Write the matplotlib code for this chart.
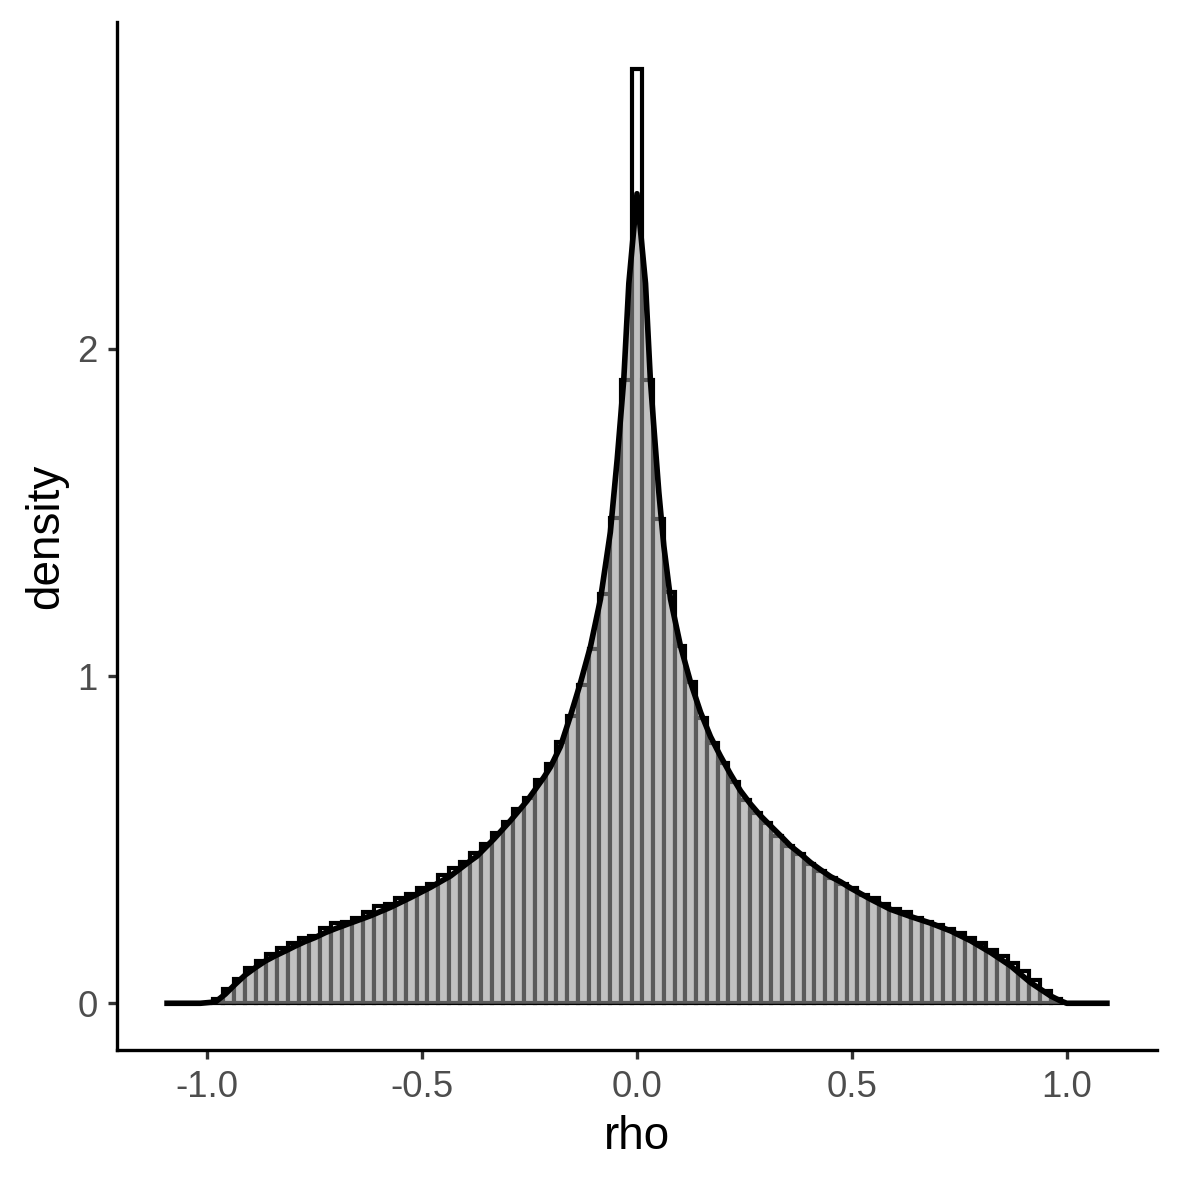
import numpy as np
import matplotlib
matplotlib.use("Agg")
import matplotlib.pyplot as plt

plt.rcParams['font.family'] = ['Liberation Sans', 'DejaVu Sans']

# ---- data ----
bin_width = 0.025
bin_index = list(range(-39, 40))
bar_heights = [
    0.012, 0.043, 0.073, 0.107, 0.128, 0.150, 0.168, 0.183, 0.199, 0.205,
    0.229, 0.245, 0.248, 0.260, 0.279, 0.298, 0.303, 0.321, 0.333, 0.353,
    0.366, 0.391, 0.413, 0.432, 0.459, 0.486, 0.520, 0.554, 0.593, 0.627,
    0.682, 0.731, 0.798, 0.879, 0.972, 1.083, 1.251, 1.483, 1.906,
    2.856,
    1.906, 1.480, 1.257, 1.092, 0.982, 0.872, 0.795, 0.733, 0.677, 0.621,
    0.583, 0.550, 0.512, 0.481, 0.456, 0.427, 0.403, 0.384, 0.364, 0.351,
    0.330, 0.321, 0.303, 0.287, 0.280, 0.262, 0.249, 0.239, 0.228, 0.214,
    0.198, 0.183, 0.163, 0.145, 0.124, 0.099, 0.071, 0.038, 0.012,
]

density_x = [
    -1.1, -1.016, -0.981, -0.958, -0.935, -0.912, -0.888, -0.865, -0.842, -0.818,
    -0.795, -0.772, -0.749, -0.725, -0.702, -0.667, -0.621, -0.574, -0.527, -0.481,
    -0.434, -0.411, -0.388, -0.372, -0.333, -0.2945, -0.2556, -0.217, -0.2014, -0.178,
    -0.155, -0.131, -0.108, -0.085, -0.062, -0.046, -0.0307, -0.019, 0.0,
    0.0198, 0.031, 0.039, 0.0508, 0.0624, 0.078, 0.101, 0.1246, 0.148, 0.171,
    0.194, 0.2177, 0.241, 0.264, 0.2875, 0.311, 0.334, 0.357, 0.381, 0.404,
    0.427, 0.4505, 0.4738, 0.497, 0.5436, 0.590, 0.637, 0.683, 0.730, 0.7765,
    0.823, 0.8696, 0.916, 0.963, 0.986, 1.0, 1.1,
]
density_y = [
    0.0, 0.0, 0.004, 0.028, 0.058, 0.086, 0.109, 0.129, 0.145, 0.160,
    0.175, 0.189, 0.201, 0.216, 0.228, 0.245, 0.267, 0.293, 0.323, 0.354,
    0.389, 0.412, 0.435, 0.450, 0.502, 0.558, 0.619, 0.690, 0.722, 0.785,
    0.878, 0.982, 1.092, 1.235, 1.440, 1.664, 1.908, 2.200, 2.474,
    2.200, 1.908, 1.765, 1.562, 1.398, 1.235, 1.093, 0.981, 0.889, 0.815,
    0.756, 0.700, 0.649, 0.609, 0.573, 0.542, 0.512, 0.481, 0.456, 0.430,
    0.408, 0.387, 0.371, 0.352, 0.318, 0.287, 0.265, 0.245, 0.221, 0.191,
    0.155, 0.114, 0.063, 0.022, 0.007, 0.0, 0.0,
]

x_ticks = [-1.0, -0.5, 0.0, 0.5, 1.0]
x_tick_labels = ["-1.0", "-0.5", "0.0", "0.5", "1.0"]
y_ticks = [0, 1, 2]
y_tick_labels = ["0", "1", "2"]

# ---- figure ----
W = H = 1181
dpi = 300
fig = plt.figure(figsize=(W / dpi, H / dpi), dpi=dpi)
ax = fig.add_axes([117 / W, 1 - 1050 / H, (1157 - 117) / W, (1050 - 22) / H])

centers = np.array(bin_index) * bin_width
ax.bar(centers, bar_heights, width=bin_width, color="white",
       edgecolor="black", linewidth=1.0, zorder=1)

ax.fill_between(density_x, density_y, 0, color="#999999", alpha=0.6,
                linewidth=0, zorder=2)
ax.plot(density_x, density_y, color="black", linewidth=1.35, zorder=3,
        solid_joinstyle="round", solid_capstyle="butt")

# ggplot-like expansion
xmin, xmax = min(density_x), max(density_x)
xr = xmax - xmin
ax.set_xlim(xmin - 0.05 * xr, xmax + 0.05 * xr)
ymax = max(max(bar_heights), max(density_y))
ax.set_ylim(-0.05 * ymax, 1.05 * ymax)

for s in ["top", "right"]:
    ax.spines[s].set_visible(False)
for s in ["left", "bottom"]:
    ax.spines[s].set_linewidth(0.8)
    ax.spines[s].set_color("black")

ax.set_xticks(x_ticks)
ax.set_xticklabels(x_tick_labels)
ax.set_yticks(y_ticks)
ax.set_yticklabels(y_tick_labels)
ax.tick_params(axis="both", length=2.2, width=0.8, color="#333333",
               labelsize=8.8, labelcolor="#4D4D4D", pad=2.5)

ax.set_xlabel("rho", fontsize=11, color="black", labelpad=2.5)
ax.set_ylabel("density", fontsize=11, color="black", labelpad=2.2)

fig.savefig("out.png", dpi=dpi)
